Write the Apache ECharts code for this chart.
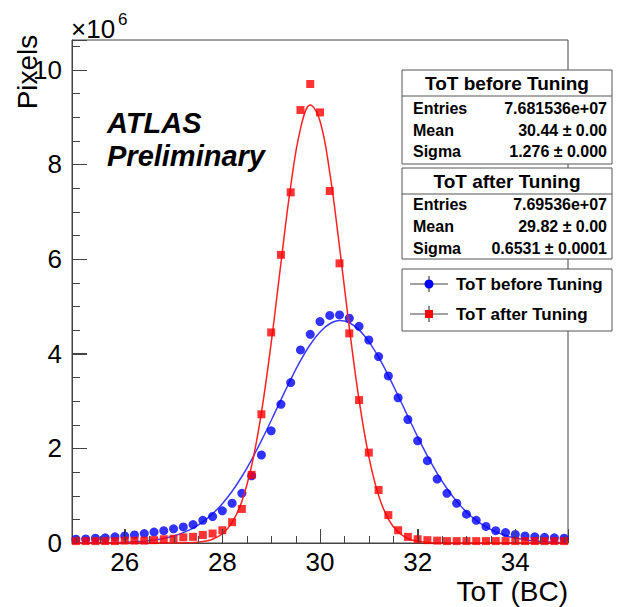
<!DOCTYPE html>
<html>
<head>
<meta charset="utf-8">
<script src="https://cdn.jsdelivr.net/npm/echarts@6/dist/echarts.min.js"></script>
<style>
html, body { margin: 0; padding: 0; background: #fff; }
#chart { width: 617px; height: 607px; }
</style>
</head>
<body>
<div id="chart"></div>
<script>
// bin centres, ToT (BC)
var tot = [25.0, 25.2, 25.4, 25.6, 25.8, 26.0, 26.2, 26.4, 26.6, 26.8,
           27.0, 27.2, 27.4, 27.6, 27.8, 28.0, 28.2, 28.4, 28.6, 28.8,
           29.0, 29.2, 29.4, 29.6, 29.8, 30.0, 30.2, 30.4, 30.6, 30.8,
           31.0, 31.2, 31.4, 31.6, 31.8, 32.0, 32.2, 32.4, 32.6, 32.8,
           33.0, 33.2, 33.4, 33.6, 33.8, 34.0, 34.2, 34.4, 34.6, 34.8, 35.0];

// pixels per bin, in units of 10^6
var beforeTuning = [0.08, 0.085, 0.10, 0.11, 0.13, 0.15, 0.17, 0.20, 0.23, 0.26,
                    0.30, 0.34, 0.39, 0.48, 0.56, 0.68, 0.84, 1.05, 1.42, 1.86,
                    2.37, 2.93, 3.39, 4.08, 4.41, 4.68, 4.81, 4.82, 4.75, 4.58,
                    4.29, 3.94, 3.53, 3.07, 2.61, 2.16, 1.74, 1.35, 1.05, 0.84,
                    0.61, 0.48, 0.35, 0.26, 0.22, 0.18, 0.15, 0.13, 0.12, 0.11, 0.10];
var afterTuning = [0.04, 0.04, 0.04, 0.04, 0.04, 0.05, 0.05, 0.05, 0.06, 0.08,
                   0.09, 0.12, 0.13, 0.17, 0.20, 0.27, 0.44, 0.72, 1.44, 2.72,
                   4.45, 6.09, 7.41, 9.15, 9.70, 9.10, 7.44, 5.91, 4.43, 3.02,
                   1.91, 1.12, 0.59, 0.27, 0.13, 0.08, 0.06, 0.05, 0.04, 0.04,
                   0.04, 0.04, 0.04, 0.04, 0.04, 0.04, 0.04, 0.04, 0.04, 0.04, 0.04];

// fitted curves at the same bin centres
var beforeFit = [0.001, 0.002, 0.003, 0.005, 0.009, 0.015, 0.024, 0.039, 0.063, 0.097,
                 0.148, 0.219, 0.316, 0.447, 0.617, 0.831, 1.094, 1.405, 1.764, 2.162,
                 2.588, 3.026, 3.455, 3.852, 4.195, 4.461, 4.633, 4.70, 4.655, 4.504,
                 4.255, 3.926, 3.538, 3.113, 2.676, 2.246, 1.841, 1.473, 1.152, 0.880,
                 0.656, 0.478, 0.340, 0.236, 0.160, 0.106, 0.069, 0.043, 0.027, 0.016, 0.009];
var afterFit = [0, 0, 0, 0, 0, 0, 0, 0, 0, 0,
                0, 0.003, 0.010, 0.030, 0.080, 0.195, 0.435, 0.883, 1.634, 2.756,
                4.229, 5.916, 7.540, 8.753, 9.256, 8.917, 7.826, 6.257, 4.557, 3.023,
                1.827, 1.007, 0.505, 0.231, 0.096, 0.036, 0.013, 0.004, 0.001, 0,
                0, 0, 0, 0, 0, 0, 0, 0, 0, 0, 0];

var xTickLabels = [26, 28, 30, 32, 34];
var yTickLabels = [0, 2, 4, 6, 8, 10];
var xMinorTicks = [25, 25.5, 26.5, 27, 27.5, 28.5, 29, 29.5, 30.5, 31, 31.5, 32.5, 33, 33.5, 34.5, 35];
var yMinorTicks = [0.5, 1, 1.5, 2.5, 3, 3.5, 4.5, 5, 5.5, 6.5, 7, 7.5, 8.5, 9, 9.5, 10.5];

var statsBefore = [['Entries', '7.681536e+07'], ['Mean', '30.44 \u00b1 0.00'], ['Sigma', '1.276 \u00b1 0.000']];
var statsAfter = [['Entries', '7.69536e+07'], ['Mean', '29.82 \u00b1 0.00'], ['Sigma', '0.6531 \u00b1 0.0001']];

var FONT = 'Liberation Sans';
var FRAME = '#444';
var xMin = 24.92, xMax = 35.08, yMax = 10.63;

function pairs(ys) {
    return tot.map(function (x, i) { return [x, ys[i]]; });
}

// tick rows: [value, 0 = x axis / 1 = y axis, length in px]
var tickData = [];
xTickLabels.forEach(function (v) { tickData.push([v, 0, 14]); });
xMinorTicks.forEach(function (v) { tickData.push([v, 0, 7]); });
yTickLabels.forEach(function (v) { if (v > 0) tickData.push([v, 1, 15]); });
yMinorTicks.forEach(function (v) { tickData.push([v, 1, 8]); });

function renderTick(params, api) {
    var v = api.value(0), kind = api.value(1), len = api.value(2);
    var p, x, y;
    if (kind === 0) {
        p = api.coord([v, 0]);
        x = Math.round(p[0]) + 0.5;
        return { type: 'line', shape: { x1: x, y1: p[1], x2: x, y2: p[1] - len },
                 style: { stroke: FRAME, lineWidth: 1 } };
    }
    p = api.coord([xMin, v]);
    y = Math.round(p[1]) + 0.5;
    return { type: 'line', shape: { x1: p[0], y1: y, x2: p[0] + len, y2: y },
             style: { stroke: FRAME, lineWidth: 1 } };
}

function txt(x, y, text, size, opts) {
    opts = opts || {};
    var align = opts.align || 'left';
    var valign = opts.valign || 'middle';
    return {
        type: 'text', x: x, y: y, z: 100, rotation: opts.rotation || 0,
        style: {
            text: text, fill: '#000',
            fontSize: size, fontFamily: FONT,
            fontWeight: opts.weight || 'normal', fontStyle: opts.style || 'normal',
            align: align, textAlign: align,
            verticalAlign: valign, textVerticalAlign: valign
        }
    };
}

function statsBox(top, height, sep, rowY, title, rows) {
    var els = [
        { type: 'rect', z: 99, shape: { x: 402, y: top, width: 210, height: height },
          style: { fill: '#fff', stroke: '#555', lineWidth: 1 } },
        { type: 'line', z: 100, shape: { x1: 402, y1: top + sep, x2: 612, y2: top + sep },
          style: { stroke: '#555', lineWidth: 1 } },
        txt(507, top + sep / 2 + 0.5, title, 19, { align: 'center', weight: 'bold' })
    ];
    rows.forEach(function (r, i) {
        els.push(txt(413, top + rowY[i], r[0], 16, { weight: 'bold' }));
        els.push(txt(607, top + rowY[i], r[1], 16, { align: 'right', weight: 'bold' }));
    });
    return els;
}

function legendEntry(y, color, shape, label) {
    var marker = shape === 'circle'
        ? { type: 'circle', z: 101, shape: { cx: 429, cy: y, r: 4.5 }, style: { fill: color } }
        : { type: 'rect', z: 101, shape: { x: 425, y: y - 4, width: 8, height: 8 }, style: { fill: color } };
    return [
        { type: 'line', z: 100, shape: { x1: 410, y1: y, x2: 448, y2: y }, style: { stroke: '#444', lineWidth: 1.2 } },
        { type: 'line', z: 100, shape: { x1: 429, y1: y - 8, x2: 429, y2: y + 8 }, style: { stroke: '#444', lineWidth: 1.2 } },
        marker,
        txt(456, y, label, 17, { weight: 'bold' })
    ];
}

var chart = echarts.init(document.getElementById('chart'), null, { renderer: 'svg' });

var graphics = []
    .concat(statsBox(70, 94, 26, [38, 60, 81], 'ToT before Tuning', statsBefore))
    .concat(statsBox(168, 91, 26, [36, 58.5, 80], 'ToT after Tuning', statsAfter))
    .concat([{ type: 'rect', z: 99, shape: { x: 402, y: 269, width: 210, height: 62 },
               style: { fill: '#fff', stroke: '#555', lineWidth: 1 } }])
    .concat(legendEntry(284, '#0000ff', 'circle', 'ToT before Tuning'))
    .concat(legendEntry(314, '#ff0000', 'rect', 'ToT after Tuning'))
    .concat([
        txt(107, 123, 'ATLAS', 29, { weight: 'bold', style: 'italic' }),
        txt(107, 156, 'Preliminary', 29, { weight: 'bold', style: 'italic' }),
        txt(71, 29, '\u00d710', 26),
        txt(118, 19, '6', 17),
        txt(568, 591, 'ToT (BC)', 28, { align: 'right' }),
        txt(27, 72, 'Pixels', 28, { align: 'center', rotation: Math.PI / 2 })
    ]);

var option = {
    animation: false,
    backgroundColor: '#fff',
    grid: { left: 72, right: 49, top: 40, bottom: 64, show: true, borderColor: FRAME, borderWidth: 1 },
    xAxis: {
        type: 'value', position: 'bottom', min: xMin, max: xMax, splitNumber: 5,
        splitLine: { show: false },
        axisLine: { show: true, onZero: false, lineStyle: { color: FRAME, width: 1 } },
        axisTick: { show: true, inside: true, length: 14, lineStyle: { color: FRAME, width: 1 } },
        axisLabel: {
            show: true, fontSize: 26, fontFamily: FONT, color: '#000', margin: 6,
            formatter: function (v) {
                var r = Math.round(v * 100) / 100;
                return xTickLabels.indexOf(r) >= 0 ? String(r) : '';
            }
        }
    },
    yAxis: {
        type: 'value', position: 'left', min: 0, max: yMax, interval: 2,
        splitLine: { show: false },
        axisLine: { show: true, onZero: false, lineStyle: { color: FRAME, width: 1 } },
        axisTick: { show: true, inside: true, length: 15, lineStyle: { color: FRAME, width: 1 } },
        axisLabel: {
            show: true, fontSize: 26, fontFamily: FONT, color: '#000', margin: 10,
            formatter: function (v) {
                var r = Math.round(v * 100) / 100;
                return yTickLabels.indexOf(r) >= 0 ? String(r) : '';
            }
        }
    },
    series: [
        {
            name: 'fit before', type: 'line', data: pairs(beforeFit), smooth: 0.4,
            showSymbol: false, symbol: 'none', z: 2,
            lineStyle: { color: '#3c3cff', width: 1.5 }
        },
        {
            name: 'ToT before Tuning', type: 'scatter', data: pairs(beforeTuning),
            symbol: 'circle', symbolSize: 9, z: 3,
            itemStyle: { color: '#0000ff' }
        },
        {
            name: 'fit after', type: 'line', data: pairs(afterFit), smooth: 0.4,
            showSymbol: false, symbol: 'none', z: 4,
            lineStyle: { color: '#ff2020', width: 1.5 }
        },
        {
            name: 'ToT after Tuning', type: 'scatter', data: pairs(afterTuning),
            symbol: 'rect', symbolSize: 8, z: 5,
            itemStyle: { color: '#ff0000' }
        },
        {
            name: 'frame ticks', type: 'custom', data: tickData, renderItem: renderTick,
            encode: { x: 0, y: 1 }, clip: false, silent: true, z: 10
        }
    ],
    graphic: graphics
};

chart.setOption(option);
</script>
</body>
</html>
